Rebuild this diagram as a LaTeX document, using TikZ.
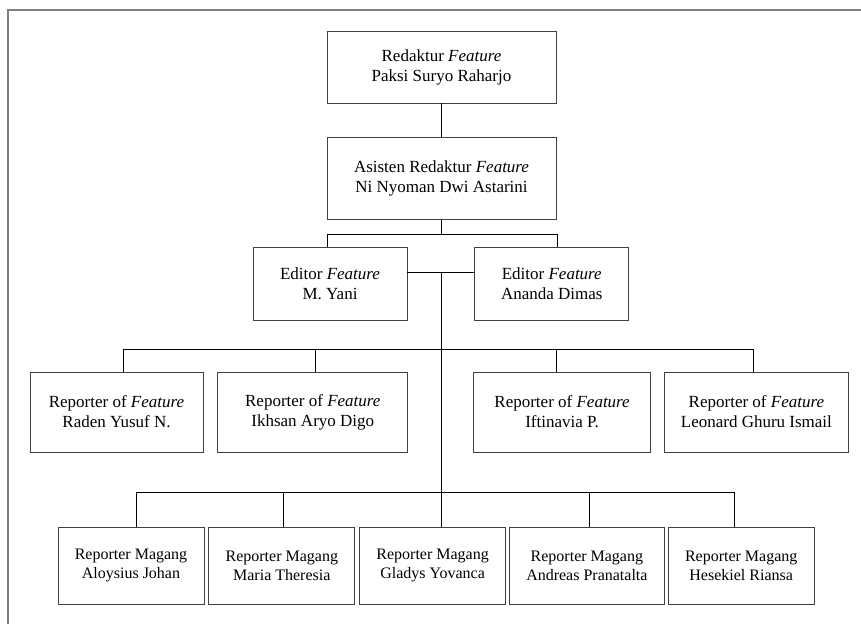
\documentclass[tikz,border=0pt]{standalone}
\usepackage{fontspec}
\setmainfont{Liberation Serif}
\usepackage{tikz}
\usetikzlibrary{positioning}

\begin{document}
\begin{tikzpicture}[x=0.75pt, y=-0.75pt,
		jabatan/.style={draw=black!75, line width=0.6pt, rectangle, align=center, inner sep=0pt, font=\fontsize{12.75}{15}\selectfont},
		magang/.style={jabatan, minimum height=57.75pt, font=\fontsize{12}{14.25}\selectfont}]
		\useasboundingbox (0,0) rectangle (861,624);
		\draw[black!50, line width=1pt] (8,624) |- (861,10);
		
		\node[jabatan, minimum width=171.75pt, minimum height=54pt] (redaktur) at (441.5,67) {Redaktur \textit{Feature}\\Paksi Suryo Raharjo};
		\node[jabatan, minimum width=171.75pt, minimum height=61.5pt, below=25.5pt of redaktur] (asisten) {Asisten Redaktur \textit{Feature}\\Ni Nyoman Dwi Astarini};
		
		\node[jabatan, minimum width=115.5pt, minimum height=54.75pt] (edL) at (330,283.5) {Editor \textit{Feature}\\M. Yani};
		\node[jabatan, minimum width=115.5pt, minimum height=54.75pt, right=50.25pt of edL] (edR) {Editor \textit{Feature}\\Ananda Dimas};
		
		\node[jabatan, minimum width=129.75pt, minimum height=60pt] (rep1) at (116.5,412) {Reporter of \textit{Feature}\\Raden Yusuf N.};
		\node[jabatan, minimum width=142.5pt, minimum height=60pt, right=10.5pt of rep1] (rep2) {Reporter of \textit{Feature}\\Ikhsan Aryo Digo};
		\node[jabatan, minimum width=132.75pt, minimum height=60pt, right=48.75pt of rep2] (rep3) {Reporter of \textit{Feature}\\Iftinavia P.};
		\node[jabatan, minimum width=138pt, minimum height=60pt, right=9.75pt of rep3] (rep4) {Reporter of \textit{Feature}\\Leonard Ghuru Ismail};
		
		\node[magang, minimum width=109.5pt] (mag1) at (131,565.5) {Reporter Magang\\Aloysius Johan};
		\node[magang, minimum width=109.5pt, right=3pt of mag1] (mag2) {Reporter Magang\\Maria Theresia};
		\node[magang, minimum width=109.5pt, right=3pt of mag2] (mag3) {Reporter Magang\\Gladys Yovanca};
		\node[magang, minimum width=116.25pt, right=2.25pt of mag3] (mag4) {Reporter Magang\\Andreas Pranatalta};
		\node[magang, minimum width=109.5pt, right=2.25pt of mag4] (mag5) {Reporter Magang\\Hesekiel Riansa};
		
		% garis penghubung
		\draw (redaktur) -- (asisten);
		\draw (asisten.south) -- ++(0,13.7) coordinate (bus1);
		\draw ([xshift=-1.7pt]edL.north) |- (bus1) -| ([xshift=3.75pt]edR.north);
		\draw ([yshift=8.1pt]edL.east) -- ([yshift=8.1pt]edR.west);
		\coordinate (simpul) at ([yshift=8.1pt]edL.east -| asisten.south);
		\draw (simpul) -- (simpul |- mag3.north);
		
		\coordinate (bus2) at ([yshift=17pt]rep1.north -| simpul);
		\foreach \n/\dx in {rep1/4.9pt, rep2/1.5pt, rep3/-4.1pt, rep4/-2.5pt}
			\draw ([xshift=\dx]\n.north) |- (bus2);
		
		\coordinate (bus3) at ([yshift=25.7pt]mag1.north -| simpul);
		\foreach \n/\dx in {mag1/4.3pt, mag2/1.3pt, mag4/1.65pt, mag5/-5.5pt}
			\draw ([xshift=\dx]\n.north) |- (bus3);
	\end{tikzpicture}
\end{document}
